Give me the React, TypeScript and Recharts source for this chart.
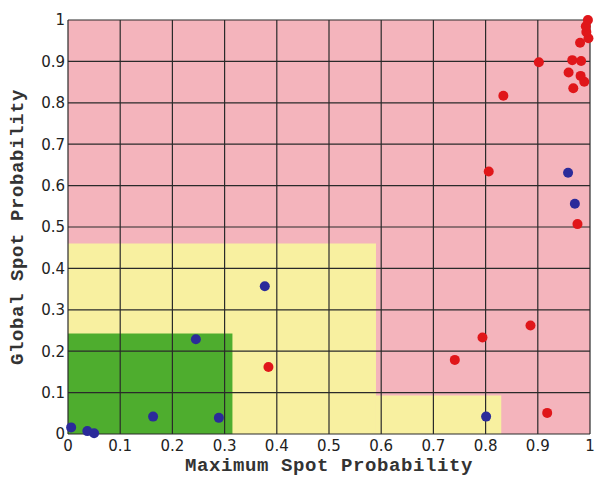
import { CartesianGrid, ReferenceArea, Scatter, ScatterChart, XAxis, YAxis } from 'recharts';

const ticks = [0, 0.1, 0.2, 0.3, 0.4, 0.5, 0.6, 0.7, 0.8, 0.9, 1];

// zones: [x1, x2, y1, y2]
const yellowZones = [
  [0, 0.59, 0, 0.46],
  [0.59, 0.83, 0, 0.093],
];
const greenZone = [0, 0.315, 0, 0.243];

const bluePoints = [
  { x: 0.006, y: 0.016 },
  { x: 0.037, y: 0.007 },
  { x: 0.05, y: 0.002 },
  { x: 0.163, y: 0.042 },
  { x: 0.289, y: 0.039 },
  { x: 0.245, y: 0.229 },
  { x: 0.377, y: 0.357 },
  { x: 0.801, y: 0.042 },
  { x: 0.971, y: 0.556 },
  { x: 0.958, y: 0.631 },
];

const redPoints = [
  { x: 0.384, y: 0.162 },
  { x: 0.918, y: 0.051 },
  { x: 0.741, y: 0.179 },
  { x: 0.794, y: 0.233 },
  { x: 0.886, y: 0.262 },
  { x: 0.976, y: 0.507 },
  { x: 0.806, y: 0.634 },
  { x: 0.834, y: 0.817 },
  { x: 0.902, y: 0.898 },
  { x: 0.968, y: 0.835 },
  { x: 0.959, y: 0.873 },
  { x: 0.989, y: 0.851 },
  { x: 0.982, y: 0.865 },
  { x: 0.966, y: 0.903 },
  { x: 0.983, y: 0.901 },
  { x: 0.981, y: 0.945 },
  { x: 0.997, y: 0.956 },
  { x: 0.993, y: 0.971 },
  { x: 0.992, y: 0.985 },
  { x: 0.996, y: 1.0 },
];

const tickStyle = { fontSize: 15, fill: '#222', fontFamily: 'DejaVu Sans' };
const titleStyle = { fontSize: 19, fill: '#333', fontFamily: 'Liberation Mono', fontWeight: 'bold', letterSpacing: 0.6 };

const dot = (color: string) => (p: any) => <circle cx={p.cx} cy={p.cy} r={5} fill={color} />;

export default function App() {
  return (
    <div style={{ position: 'absolute', left: 0, top: 0, background: '#fff' }}>
      <ScatterChart width={598} height={479} margin={{ top: 20, right: 8, bottom: 0, left: 0 }}>
        <ReferenceArea x1={0} x2={1} y1={0} y2={1} fill="#f4b4bc" fillOpacity={1} stroke="none" />
        {yellowZones.map((z, i) => (
          <ReferenceArea key={i} x1={z[0]} x2={z[1]} y1={z[2]} y2={z[3]} fill="#f8f0a0" fillOpacity={1} stroke="none" />
        ))}
        <ReferenceArea x1={greenZone[0]} x2={greenZone[1]} y1={greenZone[2]} y2={greenZone[3]} fill="#4ead2e" fillOpacity={1} stroke="none" />
        <CartesianGrid stroke="#2a2a2a" strokeWidth={1.2} horizontalValues={ticks} verticalValues={ticks} zIndex={150} />
        <XAxis
          type="number"
          dataKey="x"
          domain={[0, 1]}
          ticks={ticks}
          height={45}
          tick={tickStyle}
          tickSize={0}
          tickMargin={6}
          axisLine={false}
          label={{ value: 'Maximum Spot Probability', position: 'insideBottom', offset: 8, style: titleStyle }}
        />
        <YAxis
          type="number"
          dataKey="y"
          domain={[0, 1]}
          ticks={ticks}
          width={68}
          tick={tickStyle}
          tickSize={0}
          tickMargin={3}
          axisLine={false}
          label={{ value: 'Global Spot Probability', angle: -90, position: 'insideLeft', offset: 16, style: { ...titleStyle, textAnchor: 'middle' } }}
        />
        <Scatter data={bluePoints} fill="#2b2b9a" shape={dot('#2b2b9a')} isAnimationActive={false} />
        <Scatter data={redPoints} fill="#e0161a" shape={dot('#e0161a')} isAnimationActive={false} />
      </ScatterChart>
    </div>
  );
}
